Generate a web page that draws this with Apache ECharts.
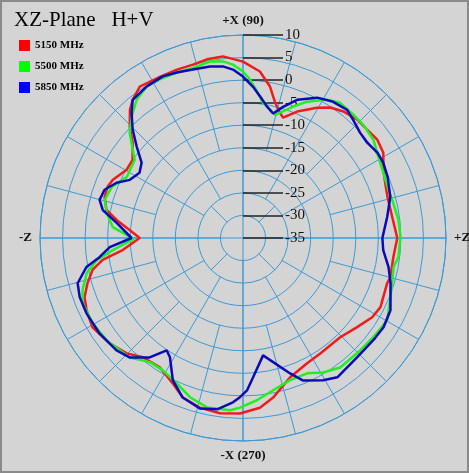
<!DOCTYPE html>
<html><head><meta charset="utf-8">
<script src="https://cdn.jsdelivr.net/npm/echarts@6/dist/echarts.min.js"></script>
<style>html,body{margin:0;padding:0;background:#d4d4d4}#c{width:469px;height:473px}</style>
</head><body><div id="c"></div>
<script>
// ---- data ----
const titleText = 'XZ-Plane   H+V';
const seriesNames = ['5150 MHz', '5500 MHz', '5850 MHz'];
const cardinalLabels = { 0: '+Z', 90: '+X (90)', 180: '-Z', 270: '-X (270)' };
const rMin = -35, rMax = 10, rStep = 5;

// [angle (deg), gain (dB)]
const pattern5150 = [[0,-0.8],[8,-1.6],[15.9,-1.7],[21.2,-1.2],[25.9,-0.4],[31.3,1.4],[36.2,1.9],[41.1,1.5],[46,1.5],[51.6,0.8],[56.2,-0.2],[60.4,-1.8],[66.8,-4.5],[71.6,-6.9],[74.7,-5.5],[76.8,-4.0],[79.9,-0.9],[84.2,2.1],[90,4.1],[96.3,5.5],[101.4,5.4],[106.1,5.0],[111.4,5.1],[117.3,5.2],[124.3,5.6],[128.6,4.2],[131.4,2.9],[135.5,0.2],[139.2,-2.7],[144.7,-5.0],[149.6,-5.1],[155.9,-3.4],[159.3,-2.9],[163.5,-3.0],[168.4,-4.1],[171.9,-6.7],[176,-9.8],[180,-12.1],[185.7,-8.2],[188.9,-3.5],[192,-0.9],[196.2,0.9],[200.5,2.5],[204.8,3.2],[210.7,3.8],[218.3,2.7],[224.8,1.3],[230,-0.5],[237.2,-0.9],[244.2,0.8],[249.3,2.8],[255.7,3.8],[262.5,4.2],[269,3.9],[275.7,2.8],[280.7,1.0],[288.7,-2.4],[297.1,-3.8],[303.8,-4.2],[314.4,-4.2],[322,-2.9],[328.5,-1.4],[333.3,-0.9],[342.6,-1.5],[345.1,-1.2],[352.8,-1.4]];
const pattern5500 = [[0.4,-0.1],[6.6,-0.3],[13.1,-0.8],[19.5,-1.0],[26.1,-0.6],[31,0.0],[37,1.2],[43.3,1.6],[48.2,1.7],[54.3,1.9],[58.7,0.9],[64.8,-1.6],[69.1,-3.8],[73.5,-6.0],[75.4,-6.8],[78.1,-5.9],[81.6,-4.7],[84.5,-2.4],[87.5,0.2],[90,1.9],[93.3,3.5],[96.5,4.4],[100.6,4.8],[106.6,4.3],[111.8,4.5],[117.7,4.7],[122.4,4.8],[127.5,3.7],[132.5,1.5],[137.1,-0.7],[141.3,-3.7],[144.2,-5.4],[152.3,-5.9],[158.7,-3.8],[164.6,-3.2],[169.6,-4.3],[175.2,-6.0],[180.5,-10.8],[185.3,-6.0],[188.6,-2.2],[192.6,0.5],[198,2.4],[202.1,3.4],[209.5,3.3],[216.9,2.8],[226.5,1.5],[233.1,-0.6],[238.8,-0.7],[245.5,0.4],[251.6,2.2],[258,3.4],[265.7,3.3],[269,2.6],[274.9,1.1],[281.2,-0.6],[288.3,-1.8],[295.4,-1.8],[300.8,-0.3],[306.9,0.9],[316.3,1.0],[322.7,1.3],[330.3,1.8],[337.1,0.4],[344.3,-0.6],[349.1,-1.0],[353,-0.3]];
const pattern5850 = [[0,-4.1],[8.3,-2.7],[15.6,-1.1],[22.9,-0.2],[28.2,0.3],[32.4,0.3],[37.5,-0.3],[41.9,-0.1],[47,0.8],[50.9,1.6],[56.5,1.2],[62.1,0.2],[68.6,-2.1],[73,-4.6],[76.4,-6.6],[79.6,-5.4],[83.1,-3.4],[86.2,-1.4],[90,0.8],[93.4,2.4],[96.7,3.3],[100.9,3.7],[106.6,4.0],[111.8,4.5],[116.4,5.0],[122.4,4.8],[128.6,4.2],[131.6,2.2],[135.5,-0.7],[139.4,-4.0],[143.4,-7.0],[147.8,-7.9],[152.8,-6.8],[156.4,-4.4],[160.8,-2.5],[165.1,-2.1],[168.7,-3.3],[173.2,-6.8],[180,-10.3],[183.9,-5.4],[187.6,-2.9],[190.5,0.3],[195.3,3.0],[199.9,3.5],[205.7,3.5],[213.6,3.2],[221.6,2.5],[226.5,1.5],[232,-1.4],[235.8,-4.9],[238.5,-4.0],[243.8,0.2],[249.3,2.8],[255.8,4.0],[261.4,3.4],[266.5,1.5],[268.9,0.3],[271.5,-1.2],[274.1,-4.0],[279.7,-8.6],[289.2,-3.2],[292.9,-0.7],[299.4,1.2],[304.1,2.3],[313.8,1.6],[321.9,1.7],[327.6,1.9],[333.9,1.4],[343,-0.8],[348.7,-2.1],[355.1,-3.8]];

// ---- chart ----
const patterns = [pattern5150, pattern5500, pattern5850];
const colors = ['#ee1c1c', '#22ee22', '#0a0ab8'];
const legendColors = ['#ff0000', '#00ff00', '#0000ff'];
const gridColor = '#3d9ad6';
const serif = '"Liberation Serif","DejaVu Serif",serif';
const CENTER = [243, 238], R = 203, RING = R / ((rMax - rMin) / rStep);

function closed(p) {
  const d = p.map(([a, g]) => [g, a]);
  d.push([p[0][1], p[0][0] + 360]);
  return d;
}

const noAxisParts = {
  axisLine: { show: false }, axisTick: { show: false }, axisLabel: { show: false },
  splitLine: { show: false }, splitArea: { show: false }, minorTick: { show: false }, minorSplitLine: { show: false }
};
// spoke rings: category angle axes, one split line per sector boundary
function spokePolar(inner, outer, sectors) {
  return {
    polar: { center: CENTER, radius: [inner, outer] },
    angle: Object.assign({}, noAxisParts, {
      type: 'category', data: Array.from({ length: sectors }, (_, k) => 'S' + k),
      boundaryGap: true, startAngle: 0, clockwise: false,
      axisLabel: { show: false, interval: 0 },
      splitLine: { show: true, interval: 0, lineStyle: { color: gridColor, width: 1, type: 'solid' } }
    }),
    radius: Object.assign({}, noAxisParts, { type: 'value', min: 0, max: 1, silent: true })
  };
}
const spokes = [spokePolar(RING, 2 * RING, 8), spokePolar(2 * RING, 4 * RING, 12), spokePolar(4 * RING, R, 24)];

const polars = [{ center: CENTER, radius: R }].concat(spokes.map(s => s.polar)).concat([{ center: CENTER, radius: R }]);
const angleAxes = [{
  polarIndex: 0, type: 'value', min: 0, max: 360, interval: 90, startAngle: 0, clockwise: false,
  axisLine: { show: true, lineStyle: { color: gridColor, width: 1 } },
  axisTick: { show: false }, splitArea: { show: false },
  splitLine: { show: true, lineStyle: { color: gridColor, width: 1 } },
  axisLabel: {
    show: true, margin: 8, color: '#111', fontFamily: serif, fontWeight: 'bold', fontSize: 13,
    formatter: v => cardinalLabels[v] || ''
  }
}].concat(spokes.map((s, i) => Object.assign({ polarIndex: i + 1 }, s.angle))).concat([
  Object.assign({}, noAxisParts, { polarIndex: 4, type: 'value', min: 0, max: 360, startAngle: 90, clockwise: false })
]);
const radiusAxes = [Object.assign({}, noAxisParts, {
  polarIndex: 0, type: 'value', min: rMin, max: rMax, interval: rStep,
  splitLine: { show: true, lineStyle: { color: gridColor, width: 1 } }
})].concat(spokes.map((s, i) => Object.assign({ polarIndex: i + 1 }, s.radius))).concat([
  Object.assign({}, noAxisParts, {
    polarIndex: 4, type: 'value', min: rMin, max: rMax, interval: rStep,
    axisTick: { show: true, length: -40, lineStyle: { color: '#222', width: 1.5 } },
    axisLabel: { show: true, margin: -42, align: 'left', color: '#111', fontFamily: serif, fontSize: 15 }
  })
]);

const chart = echarts.init(document.getElementById('c'), null, { renderer: 'canvas' });
chart.setOption({
  animation: false,
  backgroundColor: '#d4d4d4',
  title: { text: titleText, left: 9, top: 5, textStyle: { fontFamily: serif, fontSize: 21, fontWeight: 'normal', color: '#000' } },
  legend: {
    orient: 'vertical', left: 14, top: 35, icon: 'rect', itemWidth: 11, itemHeight: 11, itemGap: 10,
    textStyle: { fontFamily: serif, fontWeight: 'bold', fontSize: 11, color: '#000' },
    data: seriesNames
  },
  polar: polars,
  angleAxis: angleAxes,
  radiusAxis: radiusAxes,
  graphic: [{ type: 'rect', shape: { x: 1, y: 1, width: 467, height: 471 }, style: { fill: 'none', stroke: '#8a8a8a', lineWidth: 2 }, silent: true }],
  series: seriesNames.map((n, i) => ({
    name: n, type: 'line', coordinateSystem: 'polar', polarIndex: 0,
    showSymbol: false, smooth: false,
    lineStyle: { color: colors[i], width: 2.5 },
    itemStyle: { color: legendColors[i] },
    data: closed(patterns[i])
  }))
});
</script></body></html>
